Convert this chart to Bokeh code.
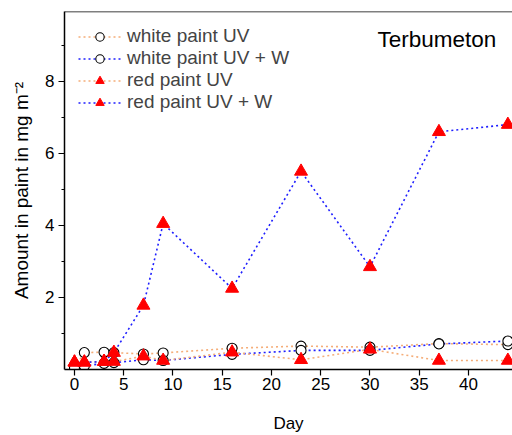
from bokeh.plotting import figure
from bokeh.models import Range1d, FixedTicker, Legend, LegendItem, Label, Span
from bokeh.embed import file_html
from bokeh.resources import INLINE

# ---- data ----
days = [0, 1, 3, 4, 7, 9, 16, 23, 30, 37, 44]
white_uv = [0.05, 0.47, 0.48, 0.47, 0.43, 0.46, 0.59, 0.65, 0.62, 0.72, 0.69]
white_uvw = [0.05, 0.10, 0.17, 0.19, 0.27, 0.25, 0.42, 0.53, 0.53, 0.71, 0.79]
red_uv = [0.20, 0.20, 0.22, 0.22, 0.37, 0.25, 0.48, 0.27, 0.56, 0.25, 0.25]
red_uvw = [0.20, 0.20, 0.22, 0.47, 1.78, 4.05, 2.25, 5.50, 2.85, 6.60, 6.80]
labels = ["white paint UV", "white paint UV + W", "red paint UV", "red paint UV + W"]
x_ticks = [0, 5, 10, 15, 20, 25, 30, 35, 40]
y_ticks = [2, 4, 6, 8]
y_minor = [1, 3, 5, 7, 9]
title_text = "Terbumeton"

FONT = "Liberation Sans"
ORANGE = "#f5ad78"
BLUE = "#1f1fff"

Y_END = 9.94
p = figure(width=512, height=435, output_backend="svg", toolbar_location=None,
           x_range=Range1d(-1.015, 44.47), y_range=Range1d(0, Y_END),
           min_border_left=64, min_border_right=0, min_border_top=11, min_border_bottom=66)
p.outline_line_color = None
p.xgrid.visible = False
p.ygrid.visible = False
p.background_fill_color = "white"
p.border_fill_color = "white"

for ax in (p.xaxis[0], p.yaxis[0]):
    ax.axis_line_width = 1.5
    ax.axis_line_color = "black"
    ax.major_tick_line_color = "black"
    ax.major_tick_line_width = 1.2
    ax.minor_tick_line_color = "black"
    ax.minor_tick_line_width = 1.2
    ax.major_tick_in = 0
    ax.major_tick_out = 6
    ax.minor_tick_in = 0
    ax.minor_tick_out = 3
    ax.major_label_text_font = FONT
    ax.major_label_text_font_size = "17px"
    ax.major_label_text_color = "black"
    ax.axis_label_text_font = FONT
    ax.axis_label_text_font_style = "normal"
    ax.axis_label_text_color = "black"

p.xaxis.axis_label_text_font_size = "17px"
p.yaxis.axis_label_text_font_size = "19px"
p.xaxis.ticker = FixedTicker(ticks=x_ticks, minor_ticks=[])
p.yaxis.ticker = FixedTicker(ticks=y_ticks, minor_ticks=y_minor)
p.xaxis.axis_label = "Day"
p.yaxis.axis_label = "Amount in paint in mg m\u207b\u00b2"
p.xaxis.major_label_standoff = 2
p.yaxis.major_label_standoff = 4
p.xaxis.axis_label_standoff = 21
p.yaxis.axis_label_standoff = 10

# top border
p.add_layout(Span(location=Y_END, dimension="width", line_color="black", line_width=1.5))

dash = "2 3"
l1 = p.line(days, white_uv, line_color=ORANGE, line_dash=dash, line_width=1.6)
l2 = p.line(days, white_uvw, line_color=BLUE, line_dash=dash, line_width=1.6)
l3 = p.line(days, red_uv, line_color=ORANGE, line_dash=dash, line_width=1.6)
l4 = p.line(days, red_uvw, line_color=BLUE, line_dash=dash, line_width=1.6)

m1 = p.scatter(days, white_uv, marker="circle", size=10, fill_color="white", line_color="black", line_width=1.1)
m2 = p.scatter(days, white_uvw, marker="circle", size=10, fill_color="white", line_color="black", line_width=1.1)
m3 = p.scatter(days, red_uv, marker="triangle", size=13, fill_color="red", line_color="red")
m4 = p.scatter(days, red_uvw, marker="triangle", size=13, fill_color="red", line_color="red")

legend = Legend(items=[
    LegendItem(label=labels[0], renderers=[l1, m1]),
    LegendItem(label=labels[1], renderers=[l2, m2]),
    LegendItem(label=labels[2], renderers=[l3, m3]),
    LegendItem(label=labels[3], renderers=[l4, m4]),
], location="top_left")
legend.margin = 14
legend.padding = 0
legend.spacing = 0
legend.glyph_width = 43
legend.glyph_height = 21
legend.label_height = 21
legend.label_standoff = 6
legend.label_text_font = FONT
legend.label_text_font_size = "19px"
legend.background_fill_alpha = 0
legend.border_line_color = None
p.add_layout(legend)

p.add_layout(Label(x=36.8, y=9.15, text=title_text, text_align="center", text_baseline="middle",
                   text_font=FONT, text_font_size="22.5px", text_color="black"))

open("out.html", "w").write(file_html(p, INLINE))
